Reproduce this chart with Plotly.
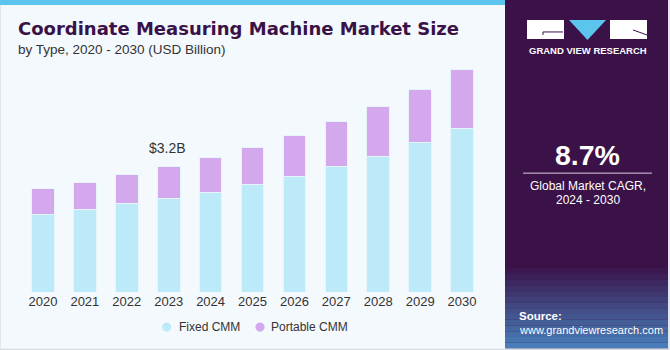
import plotly.graph_objects as go

years = ["2020", "2021", "2022", "2023", "2024", "2025", "2026", "2027", "2028", "2029", "2030"]
fixed_cmm = [1.98, 2.11, 2.25, 2.38, 2.55, 2.75, 2.96, 3.21, 3.47, 3.81, 4.17]
portable_cmm = [0.66, 0.70, 0.75, 0.82, 0.89, 0.95, 1.05, 1.14, 1.26, 1.37, 1.53]
series_names = ["Fixed CMM", "Portable CMM"]
series_colors = ["#BDEAF9", "#D4A8EC"]
label_year = "2023"
label_text = "$3.2B"
title = "Coordinate Measuring Machine Market Size"
subtitle = "by Type, 2020 - 2030 (USD Billion)"
cagr = "8.7%"
cagr_lines = ["Global Market CAGR,", "2024 - 2030"]

W, H = 670, 350
L, R_EDGE, T, B_EDGE = 22, 483, 60, 291.7
PW, PH = R_EDGE - L, B_EDGE - T


def px(x):
    return (x - L) / PW


def py(y):
    return (B_EDGE - y) / PH


fig = go.Figure()
for name, vals, col in zip(series_names, [fixed_cmm, portable_cmm], series_colors):
    fig.add_trace(go.Bar(x=years, y=vals, name=name, marker=dict(color=col, line=dict(color="#E6F4FB", width=1)),
                         showlegend=False))

shapes = []
shapes.append(dict(type="rect", xref="paper", yref="paper", x0=px(0), x1=px(669), y0=py(349), y1=py(0),
                   fillcolor="#F4F9FD", line=dict(color="#D0D5DA", width=1), layer="below"))
shapes.append(dict(type="rect", xref="paper", yref="paper", x0=px(0), x1=px(505), y0=py(5), y1=py(0),
                   fillcolor="#5BC5EE", line=dict(width=0), layer="below"))
shapes.append(dict(type="rect", xref="paper", yref="paper", x0=px(505), x1=px(668), y0=py(348), y1=py(0),
                   fillcolor="#3A1248", line=dict(width=0), layer="below"))
n = 14
c0 = (58, 18, 72)
c1 = (72, 125, 185)
for i in range(n):
    t = (i + 1) / n
    c = tuple(int(c0[k] + (c1[k] - c0[k]) * t) for k in range(3))
    y0 = 268 + (348 - 268) * i / n
    y1 = 268 + (348 - 268) * (i + 1) / n
    shapes.append(dict(type="rect", xref="paper", yref="paper", x0=px(505), x1=px(668), y0=py(y1), y1=py(y0),
                       fillcolor="rgb(%d,%d,%d)" % c, line=dict(width=0), layer="below"))
shapes.append(dict(type="rect", xref="paper", yref="paper", x0=px(527), x1=px(564), y0=py(39), y1=py(20),
                   fillcolor="white", line=dict(width=0)))
shapes.append(dict(type="line", xref="paper", yref="paper", x0=px(543), x1=px(563), y0=py(32), y1=py(32),
                   line=dict(color="#3A1248", width=1)))
shapes.append(dict(type="line", xref="paper", yref="paper", x0=px(543), x1=px(543), y0=py(32), y1=py(35),
                   line=dict(color="#3A1248", width=1)))
shapes.append(dict(type="path", xref="paper", yref="paper",
                   path="M %f,%f L %f,%f L %f,%f Z" % (px(569), py(20), px(606), py(20), px(587.5), py(40)),
                   fillcolor="#5BC5EE", line=dict(width=0)))
shapes.append(dict(type="rect", xref="paper", yref="paper", x0=px(610), x1=px(647), y0=py(39), y1=py(20),
                   fillcolor="white", line=dict(width=0)))
shapes.append(dict(type="line", xref="paper", yref="paper", x0=px(633), x1=px(647), y0=py(30), y1=py(35),
                   line=dict(color="#3A1248", width=1)))
shapes.append(dict(type="line", xref="paper", yref="paper", x0=px(523), x1=px(652), y0=py(173), y1=py(173),
                   line=dict(color="#D8CCE0", width=1)))
# legend markers
legend_marker_x = [166.7, 260]
for cx, col in zip(legend_marker_x, series_colors):
    shapes.append(dict(type="circle", xref="paper", yref="paper", x0=px(cx - 4.6), x1=px(cx + 4.6),
                       y0=py(326.7 + 4.6), y1=py(326.7 - 4.6), fillcolor=col, line=dict(width=0)))


def txt(text, x, y, size, color, family="Liberation Sans", xanchor="center"):
    return dict(text=text, x=px(x), y=py(y), xref="paper", yref="paper", xanchor=xanchor, yanchor="middle",
                showarrow=False, font=dict(family=family, size=size, color=color))


ann = []
ann.append(txt("<b>" + title + "</b>", 16, 29, 18, "#3A1248", family="DejaVu Sans", xanchor="left"))
ann.append(txt(subtitle, 16, 50, 13.5, "#333333", xanchor="left"))
ann.append(dict(text=label_text, x=years.index(label_year), y=fixed_cmm[3] + portable_cmm[3], xref="x", yref="y",
                yshift=19, xshift=-1, showarrow=False,
                font=dict(family="Liberation Sans", size=14, color="#333333")))
ann.append(txt("<b>GRAND VIEW RESEARCH</b>", 587.5, 51, 9.5, "#FFFFFF"))
ann.append(txt("<b>" + cagr + "</b>", 587.5, 155, 28.5, "#FFFFFF"))
ann.append(txt(cagr_lines[0], 587.5, 186, 12, "#FFFFFF"))
ann.append(txt(cagr_lines[1], 587.5, 200, 12, "#FFFFFF"))
ann.append(txt("<b>Source:</b>", 517, 316, 11.5, "#FFFFFF", xanchor="left"))
ann.append(txt("www.grandviewresearch.com", 517, 330, 11, "#FFFFFF", xanchor="left"))
legend_text_x = [176.5, 268.5]
for tx, name in zip(legend_text_x, series_names):
    ann.append(txt(name, tx, 326.7, 12, "#333333", xanchor="left"))

fig.update_layout(
    width=W, height=H, barmode="stack", bargap=0.46,
    margin=dict(l=L, r=W - R_EDGE, t=T, b=H - B_EDGE, pad=0),
    paper_bgcolor="#F4F9FD", plot_bgcolor="rgba(0,0,0,0)",
    shapes=shapes, annotations=ann,
    xaxis=dict(range=[-0.5, 10.5], showgrid=False, zeroline=False, showline=False, ticks="",
               automargin=False, tickfont=dict(family="Liberation Sans", size=13, color="#333333")),
    yaxis=dict(range=[0, 5.93], visible=False, showgrid=False, automargin=False),
    showlegend=False,
)

fig.write_html("out.html")
